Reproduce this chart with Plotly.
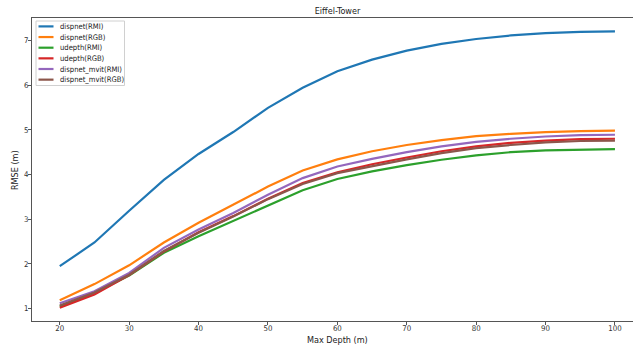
import plotly.graph_objects as go

depth = [20, 25, 30, 35, 40, 45, 50, 55, 60, 65, 70, 75, 80, 85, 90, 95, 100]

dispnet_rmi = [1.95, 2.48, 3.19, 3.88, 4.46, 4.95, 5.49, 5.94, 6.31, 6.57, 6.77, 6.92, 7.03, 7.11, 7.16, 7.19, 7.20]
dispnet_rgb = [1.19, 1.55, 1.97, 2.48, 2.92, 3.32, 3.73, 4.09, 4.34, 4.52, 4.66, 4.77, 4.86, 4.91, 4.95, 4.97, 4.98]
udepth_rmi = [1.05, 1.35, 1.74, 2.25, 2.62, 2.96, 3.30, 3.65, 3.90, 4.07, 4.21, 4.33, 4.43, 4.50, 4.54, 4.56, 4.57]
udepth_rgb = [1.02, 1.32, 1.75, 2.28, 2.71, 3.07, 3.46, 3.81, 4.05, 4.23, 4.38, 4.52, 4.63, 4.71, 4.76, 4.79, 4.80]
dispnet_mvit_rmi = [1.12, 1.39, 1.80, 2.36, 2.77, 3.14, 3.55, 3.92, 4.18, 4.35, 4.50, 4.63, 4.73, 4.80, 4.85, 4.88, 4.89]
dispnet_mvit_rgb = [1.07, 1.36, 1.76, 2.29, 2.70, 3.06, 3.45, 3.79, 4.03, 4.19, 4.34, 4.48, 4.59, 4.66, 4.72, 4.75, 4.76]

names = ["dispnet(RMI)", "dispnet(RGB)", "udepth(RMI)", "udepth(RGB)", "dispnet_mvit(RMI)", "dispnet_mvit(RGB)"]
series = [dispnet_rmi, dispnet_rgb, udepth_rmi, udepth_rgb, dispnet_mvit_rmi, dispnet_mvit_rgb]
colors = ["#1f77b4", "#ff7f0e", "#2ca02c", "#d62728", "#9467bd", "#8c564b"]

x_ticks = [20, 30, 40, 50, 60, 70, 80, 90, 100]
y_ticks = [1, 2, 3, 4, 5, 6, 7]

W, H = 633, 349
ML, MR, MT, MB = 32, 0, 18, 28
PW = W - ML - MR
PH = H - MT - MB

def px(xp):
    return (xp - ML) / PW

def py(yp):
    return (H - MB - yp) / PH

fig = go.Figure()
for name, ys, c in zip(names, series, colors):
    fig.add_trace(go.Scatter(x=depth, y=ys, name=name, mode="lines",
                             line=dict(color=c, width=2.2), showlegend=False))

font = "DejaVu Sans Condensed, DejaVu Sans, sans-serif"
axis_common = dict(showgrid=False, zeroline=False, showline=True, linecolor="#555",
                   linewidth=1, ticks="outside", ticklen=3, tickcolor="#555",
                   tickfont=dict(family=font, size=7.8, color="#333"), automargin=False)

fig.update_layout(
    width=W, height=H,
    margin=dict(l=ML, r=MR, t=MT, b=MB),
    paper_bgcolor="white", plot_bgcolor="white",
    title=dict(text="Eiffel-Tower", x=px(337.5), xref="paper", xanchor="center",
               y=1 - 11 / H, yref="container", yanchor="middle",
               font=dict(family=font, size=9, color="#222")),
    xaxis=dict(range=[16, 16 + PW / 6.94], tickvals=x_ticks, ticktext=[str(v) for v in x_ticks],
               mirror=True, ticklabelstandoff=-3, **axis_common),
    yaxis=dict(range=[0.725, 7.50], tickvals=y_ticks, ticktext=[str(v) for v in y_ticks],
               mirror=False, ticklabelstandoff=-2, **axis_common),
)

# axis titles
fig.add_annotation(text="Max Depth (m)", x=px(337.5), y=py(340), xref="paper", yref="paper",
                   showarrow=False, xanchor="center", yanchor="middle",
                   font=dict(family=font, size=9, color="#222"))
fig.add_annotation(text="RMSE (m)", x=px(15), y=py(170), xref="paper", yref="paper",
                   showarrow=False, xanchor="center", yanchor="middle", textangle=-90,
                   font=dict(family=font, size=9, color="#222"))

# legend box
fig.add_shape(type="rect", xref="paper", yref="paper",
              x0=px(36), x1=px(124.5), y0=py(85.5), y1=py(21),
              line=dict(color="#d0d0d0", width=1), fillcolor="rgba(255,255,255,0.85)", layer="above")
row0, step = 26.4, 10.65
for i, (name, c) in enumerate(zip(names, colors)):
    yy = row0 + i * step
    fig.add_shape(type="line", xref="paper", yref="paper",
                  x0=px(38.5), x1=px(53.5), y0=py(yy), y1=py(yy),
                  line=dict(color=c, width=2.2), layer="above")
    fig.add_annotation(text=name, x=px(57.5), y=py(yy), xref="paper", yref="paper",
                       showarrow=False, xanchor="left", yanchor="middle",
                       font=dict(family=font, size=7.6, color="#222"))

fig.write_html("out.html")
